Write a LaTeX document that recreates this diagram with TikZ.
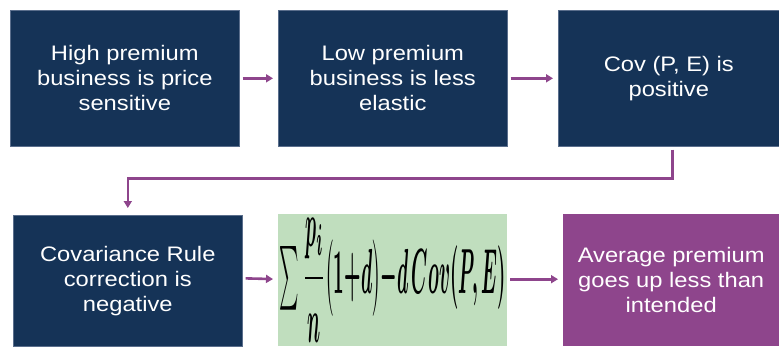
\documentclass[tikz,border=0pt]{standalone}
\usepackage{fontspec}
\setmainfont{Liberation Sans}[FakeStretch=1.13]
\usetikzlibrary{arrows.meta}
\definecolor{navy}{RGB}{21,51,87}
\definecolor{plum}{RGB}{142,69,140}
\definecolor{mint}{RGB}{192,222,190}
\definecolor{edge}{RGB}{90,110,140}
\tikzset{
  box/.style={anchor=north west, inner sep=0pt, align=center,
    font=\fontsize{21pt}{25pt}\selectfont, text=white},
  navybox/.style={box, fill=navy, draw=edge, line width=0.6pt},
  flow/.style={draw=plum, line width=2.6pt,
    -{Triangle[length=7pt,width=8pt]}, shorten <=3pt, shorten >=5pt}
}
\begin{document}
\begin{tikzpicture}[x=1pt,y=-1pt]
\useasboundingbox (0,0) rectangle (779,346);
\node[navybox, minimum width=229pt, minimum height=136pt] (b1) at (10,10)
  {High premium\\business is price\\sensitive};
\node[navybox, minimum width=229pt, minimum height=136pt] (b2) at (278,10)
  {Low premium\\business is less\\elastic};
\node[navybox, minimum width=221pt, minimum height=136pt] (b3) at (558,10)
  {Cov (P, E) is\\positive};
\node[navybox, minimum width=229pt, minimum height=131pt] (b4) at (13,215)
  {Covariance Rule\\correction is\\negative};
\node[box, fill=mint, minimum width=229pt, minimum height=132pt] (b5) at (278,214) {};
\node[text=black, inner sep=0pt] (f) at (393,280)
  {\resizebox*{226pt}{124pt}{\boldmath$\textstyle\sum\displaystyle\frac{p_i}{n}\bigl(1{+}d\bigr){-}d\,Cov(P,E)$}};
\node[box, fill=plum, minimum width=216pt, minimum height=132pt] (b6) at (563,214)
  {Average premium\\goes up less than\\intended};
\draw[flow] (b1.east) -- (b2.west);
\draw[flow] (b2.east) -- (b3.west);
\draw[flow, shorten >=7pt] ([xshift=3.5pt]b3.south) -- ++(0,32) -| (b4.north);
\draw[flow] ([yshift=2.5pt]b4.east) -- ([yshift=1pt]b5.west);
\draw[flow] ([yshift=1pt]b5.east) -- ([yshift=1pt]b6.west);
\end{tikzpicture}
\end{document}
